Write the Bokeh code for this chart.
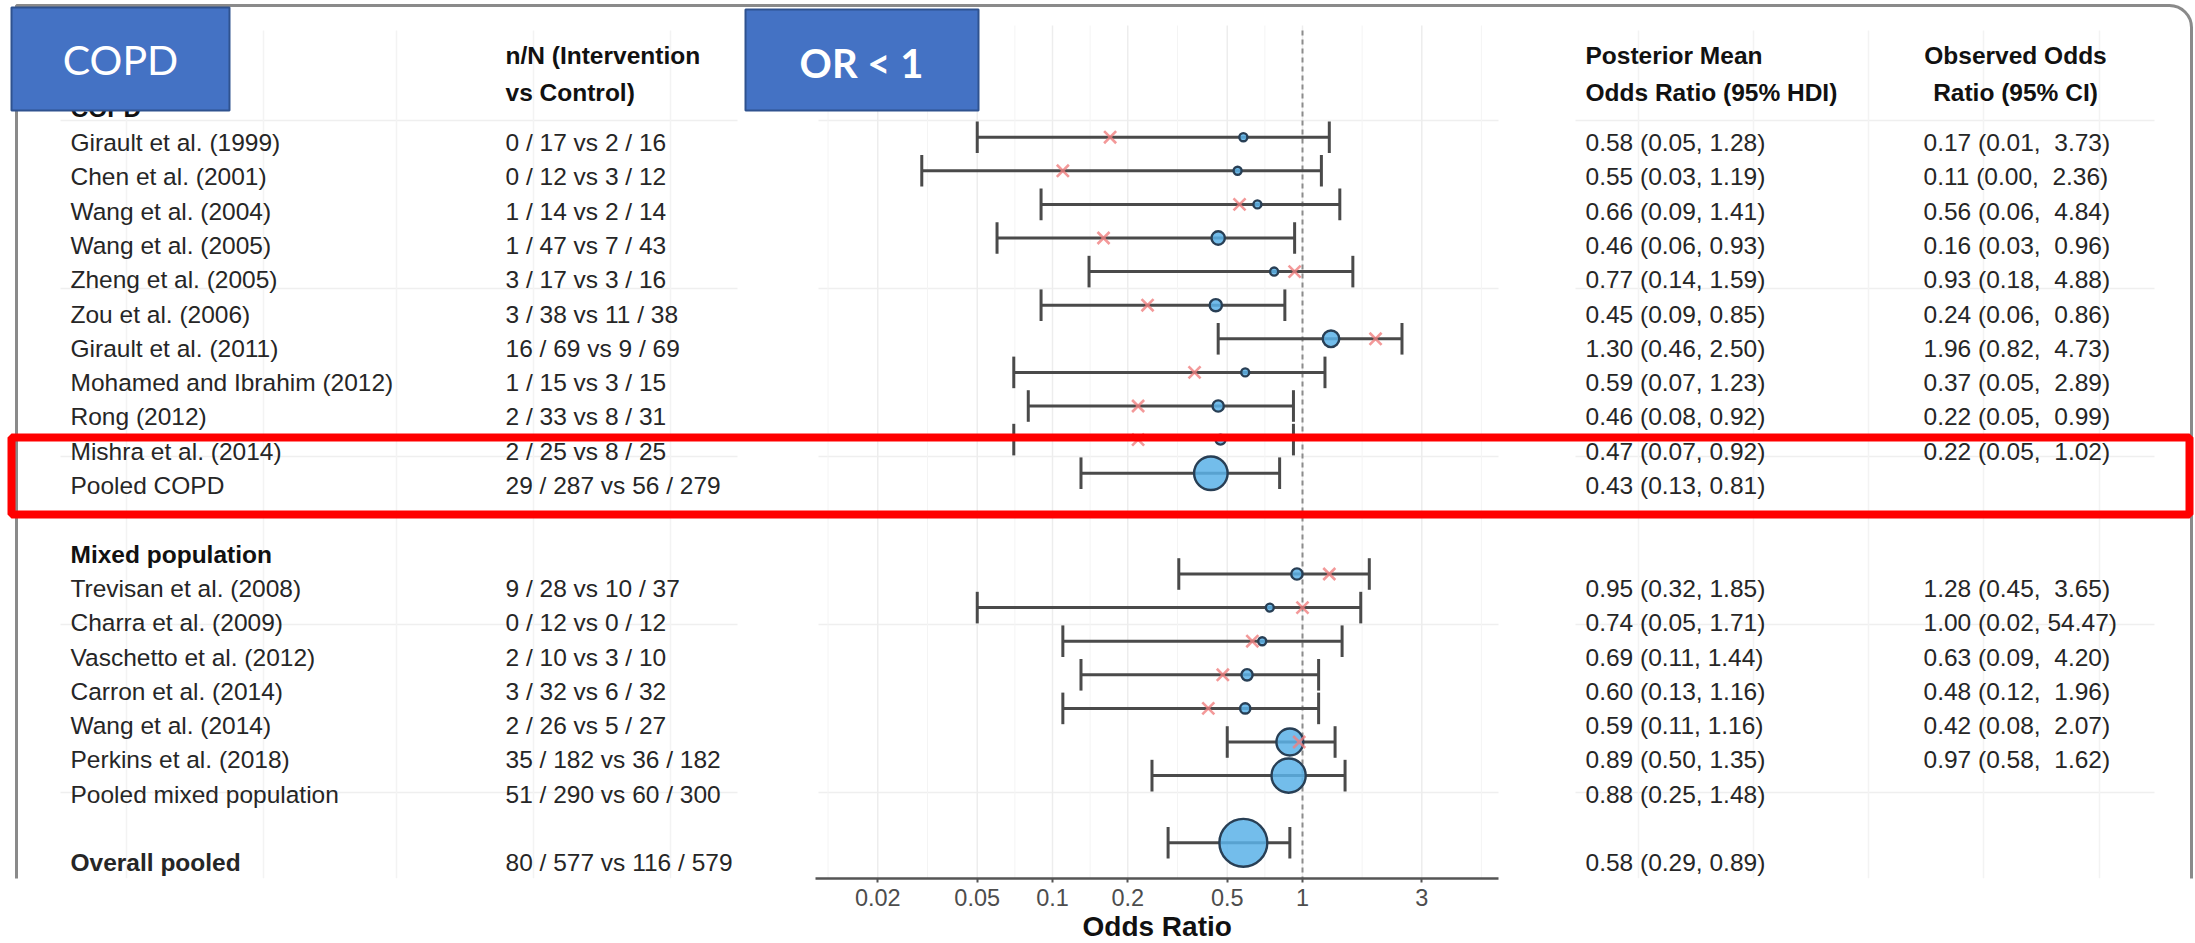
import numpy as np
from bokeh.plotting import figure
from bokeh.models import (Range1d, LogScale, LinearAxis, FixedTicker, CustomJSTickFormatter,
                          BoxAnnotation, Label, Title, ColumnDataSource)
from bokeh.core.properties import value
from bokeh.embed import file_html
from bokeh.resources import INLINE

# ---------------- data ----------------
groups = ["COPD"] * 11 + ["Mixed population"] * 7 + ["Overall"]
studies = [
    "Girault et al. (1999)", "Chen et al. (2001)", "Wang et al. (2004)", "Wang et al. (2005)",
    "Zheng et al. (2005)", "Zou et al. (2006)", "Girault et al. (2011)",
    "Mohamed and Ibrahim (2012)", "Rong (2012)", "Mishra et al. (2014)", "Pooled COPD",
    "Trevisan et al. (2008)", "Charra et al. (2009)", "Vaschetto et al. (2012)",
    "Carron et al. (2014)", "Wang et al. (2014)", "Perkins et al. (2018)",
    "Pooled mixed population", "Overall pooled",
]
int_events = [0, 0, 1, 1, 3, 3, 16, 1, 2, 2, 29, 9, 0, 2, 3, 2, 35, 51, 80]
int_total = [17, 12, 14, 47, 17, 38, 69, 15, 33, 25, 287, 28, 12, 10, 32, 26, 182, 290, 577]
ctl_events = [2, 3, 2, 7, 3, 11, 9, 3, 8, 8, 56, 10, 0, 3, 6, 5, 36, 60, 116]
ctl_total = [16, 12, 14, 43, 16, 38, 69, 15, 31, 25, 279, 37, 12, 10, 32, 27, 182, 300, 579]
post_mean = [0.58, 0.55, 0.66, 0.46, 0.77, 0.45, 1.30, 0.59, 0.46, 0.47, 0.43,
             0.95, 0.74, 0.69, 0.60, 0.59, 0.89, 0.88, 0.58]
post_lo = [0.05, 0.03, 0.09, 0.06, 0.14, 0.09, 0.46, 0.07, 0.08, 0.07, 0.13,
           0.32, 0.05, 0.11, 0.13, 0.11, 0.50, 0.25, 0.29]
post_hi = [1.28, 1.19, 1.41, 0.93, 1.59, 0.85, 2.50, 1.23, 0.92, 0.92, 0.81,
           1.85, 1.71, 1.44, 1.16, 1.16, 1.35, 1.48, 0.89]
obs_or = [0.17, 0.11, 0.56, 0.16, 0.93, 0.24, 1.96, 0.37, 0.22, 0.22, None,
          1.28, 1.00, 0.63, 0.48, 0.42, 0.97, None, None]
obs_lo = [0.01, 0.00, 0.06, 0.03, 0.18, 0.06, 0.82, 0.05, 0.05, 0.05, None,
          0.45, 0.02, 0.09, 0.12, 0.08, 0.58, None, None]
obs_hi = [3.73, 2.36, 4.84, 0.96, 4.88, 0.86, 4.73, 2.89, 0.99, 1.02, None,
          3.65, 54.47, 4.20, 1.96, 2.07, 1.62, None, None]
x_ticks = [0.02, 0.05, 0.1, 0.2, 0.5, 1, 3]

# ---------------- layout constants (pixels) ----------------
W, H = 2195, 943
FRAME_H = 878
ROW0_PX, ROW_PX = 142.0, 34.3          # text panels
PROW0_PX, PROW_PX = 136.7, 33.6        # forest panel
X_ONE_PX, PX_DEC = 1302.0, 250.0
AX_LEFT_PX, AX_RIGHT_PX = 815.0, 1498.0
NAME_X, NN_X, POST_X, OBS_X, OBS_HDR_X = 70, 505, 1585, 1923, 2015
FS = "24.5px"
FONT = "Liberation Sans"
AXIS_TITLE_W = 149.0


def prow(px):
    return (px - ROW0_PX) / ROW_PX


def pprow(px):
    return (px - PROW0_PX) / PROW_PX


def or_at(px):
    return 10 ** ((px - X_ONE_PX) / PX_DEC)


# rows: group header, studies, gap
rows, header_rows = [], {}
r, prev = -1, None
for g in groups:
    if g != prev:
        if prev is not None:
            r += 1
        if g != "Overall":
            header_rows[g] = r
            r += 1
        prev = g
    rows.append(r)
    r += 1

NBSP = "\u00a0"
nn_text = [f"{a} / {b} vs {c} / {d}" for a, b, c, d in zip(int_events, int_total, ctl_events, ctl_total)]
post_text = [f"{m:.2f} ({l:.2f}, {h:.2f})" for m, l, h in zip(post_mean, post_lo, post_hi)]
obs_text = ["" if o is None else f"{o:.2f} ({l:.2f}, " + f"{h:5.2f}".replace(" ", NBSP) + ")"
            for o, l, h in zip(obs_or, obs_lo, obs_hi)]
sizes = [max(8.0, 1.41 * np.sqrt(a + b)) for a, b in zip(int_total, ctl_total)]

src = ColumnDataSource(dict(
    row=rows, name=studies, nn=nn_text, post=post_text, obs_txt=obs_text,
    mean=post_mean, lo=post_lo, hi=post_hi, size=sizes,
    cap_lo=[y - 0.47 for y in rows], cap_hi=[y + 0.47 for y in rows],
))
obs_idx = [i for i, o in enumerate(obs_or) if o is not None]
obs_src = ColumnDataSource(dict(x=[obs_or[i] for i in obs_idx], row=[rows[i] for i in obs_idx]))

p = figure(width=W, height=H, output_backend="svg", toolbar_location=None,
           x_range=Range1d(0, W), y_range=Range1d(prow(FRAME_H), prow(0)),
           x_axis_location=None, y_axis_location=None,
           min_border_left=0, min_border_right=0, min_border_top=0, min_border_bottom=H - FRAME_H,
           background_fill_color="white", border_fill_color="white")
p.outline_line_color = None
p.grid.visible = False
p.extra_x_ranges = {"or": Range1d(or_at(0), or_at(W))}
p.extra_x_scales = {"or": LogScale()}
p.extra_y_ranges = {"plot": Range1d(pprow(FRAME_H), pprow(0))}
py_bottom = pprow(FRAME_H)

# ---- faint panel gridlines ----
grid_rows = [-0.5, 4.5, 9.5, 14.5, 19.5]
grid_col = "#EFEFEF"
for (x0, x1) in [(60, 737), (818, 1498), (1575, 2154)]:
    p.segment(x0=x0, x1=x1, y0=grid_rows, y1=grid_rows, line_color=grid_col, line_width=1.5,
              y_range_name="plot")
p.segment(x0=[126, 263, 396, 533, 670], x1=[126, 263, 396, 533, 670],
          y0=pprow(30), y1=py_bottom, line_color="#F3F3F3", line_width=1.5, y_range_name="plot")
p.segment(x0=[1638, 1753, 1868, 1983, 2099], x1=[1638, 1753, 1868, 1983, 2099],
          y0=pprow(30), y1=py_bottom, line_color="#F3F3F3", line_width=1.5, y_range_name="plot")
lt = np.log10(x_ticks)
minor = list((lt[:-1] + lt[1:]) / 2) + [lt[0] - (lt[1] - lt[0]) / 2, lt[-1] + (lt[-1] - lt[-2]) / 2]
p.segment(x0=x_ticks, x1=x_ticks, y0=pprow(25), y1=py_bottom, line_color="#EDEDED",
          line_width=1.5, x_range_name="or", y_range_name="plot")
p.segment(x0=list(10 ** np.array(minor)), x1=list(10 ** np.array(minor)), y0=pprow(25), y1=py_bottom,
          line_color="#F4F4F4", line_width=1, x_range_name="or", y_range_name="plot")

# ---- reference line at OR = 1 ----
p.segment(x0=1, x1=1, y0=pprow(30), y1=py_bottom, line_color="#8C8C8C", line_width=2,
          line_dash="5 4", x_range_name="or", y_range_name="plot")

# ---- forest marks ----
bar_col = "#4A4A4A"
for x0, x1, y0, y1 in [("lo", "hi", "row", "row"), ("lo", "lo", "cap_lo", "cap_hi"),
                       ("hi", "hi", "cap_lo", "cap_hi")]:
    p.segment(x0=x0, x1=x1, y0=y0, y1=y1, source=src, line_color=bar_col,
              line_width=3, x_range_name="or", y_range_name="plot")
p.scatter(x="mean", y="row", size="size", source=src, marker="circle", fill_color="#5AB1E8",
          fill_alpha=0.85, line_color="#283F55", line_width=2.4, x_range_name="or",
          y_range_name="plot")
p.scatter(x="x", y="row", source=obs_src, marker="x", size=17, line_color="#F08080",
          line_width=2.6, line_alpha=0.8, x_range_name="or", y_range_name="plot")

# ---- text columns ----
txt_col = "#262626"
regular = [i for i, s in enumerate(studies) if s != "Overall pooled"]
bold = [i for i, s in enumerate(studies) if s == "Overall pooled"]
for idx, style in [(regular, "normal"), (bold, "bold")]:
    s2 = ColumnDataSource(dict(row=[rows[i] for i in idx], name=[studies[i] for i in idx]))
    p.text(x=NAME_X, y="row", text="name", source=s2, text_font=value(FONT),
           text_font_size=value(FS), text_font_style=style, text_color=txt_col,
           text_baseline="middle", text_align="left")
p.text(x=NN_X, y="row", text="nn", source=src, text_font=value(FONT), text_font_size=value(FS),
       text_color=txt_col, text_baseline="middle", text_align="left")
p.text(x=POST_X, y="row", text="post", source=src, text_font=value(FONT), text_font_size=value(FS),
       text_color=txt_col, text_baseline="middle", text_align="left")
p.text(x=OBS_X, y="row", text="obs_txt", source=src, text_font=value(FONT), text_font_size=value(FS),
       text_color=txt_col, text_baseline="middle", text_align="left")

# group headers
hs = ColumnDataSource(dict(row=list(header_rows.values()), name=list(header_rows.keys())))
p.text(x=NAME_X, y="row", text="name", source=hs, text_font=value(FONT), text_font_size=value(FS),
       text_font_style="bold", text_color="#111111", text_baseline="middle", text_align="left")

# column headers
HDR1, HDR2 = -2.53, -1.47
for x, lines, align in [(NN_X, ["n/N (Intervention", "vs Control)"], "left"),
                        (POST_X, ["Posterior Mean", "Odds Ratio (95% HDI)"], "left"),
                        (OBS_HDR_X, ["Observed Odds", "Ratio (95% CI)"], "center")]:
    p.text(x=[x, x], y=[HDR1, HDR2], text=lines, text_font=value(FONT), text_font_size=value(FS),
           text_font_style="bold", text_color="#111111", text_baseline="middle", text_align=align)

# ---- x axis ----
ax_lo, ax_hi = or_at(AX_LEFT_PX), or_at(AX_RIGHT_PX)
ax = LinearAxis(x_range_name="or", ticker=FixedTicker(ticks=x_ticks, minor_ticks=[]),
                bounds=(ax_lo, ax_hi),
                formatter=CustomJSTickFormatter(code="return tick.toString();"))
ax.axis_line_color = "#555555"
ax.axis_line_width = 2.5
ax.major_tick_line_color = "#555555"
ax.major_tick_line_width = 2
ax.major_tick_out = 4
ax.major_tick_in = 0
ax.minor_tick_line_color = None
ax.major_label_text_font = FONT
ax.major_label_text_font_size = "23.5px"
ax.major_label_text_color = "#4D4D4D"
ax.major_label_standoff = 6
p.add_layout(ax, "below")

# axis title, centred under the plotted panel
axis_title_left = (AX_LEFT_PX + AX_RIGHT_PX) / 2 - AXIS_TITLE_W / 2
p.add_layout(Title(text="Odds Ratio", align="left", offset=axis_title_left,
                   standoff=0, text_font=FONT, text_font_size="28px", text_font_style="bold",
                   text_color="#111111"), "below")

# ---- overlays ----
p.add_layout(BoxAnnotation(left=16, right=2191, top=prow(5), bottom=prow(3000),
                           fill_color=None, line_color="#8A8A8A", line_width=3, line_alpha=1,
                           border_radius=(0, 22, 0, 0)))
p.add_layout(BoxAnnotation(left=11, right=2189, top=prow(437), bottom=prow(514),
                           fill_color=None, line_color="#FF0000", line_width=8, line_alpha=1))
p.add_layout(BoxAnnotation(left=11, right=229, top=prow(7), bottom=prow(110),
                           fill_color="#4472C4", fill_alpha=1, line_color="#2F528F",
                           line_width=2, line_alpha=1))
p.add_layout(BoxAnnotation(left=745, right=978, top=prow(9), bottom=prow(110),
                           fill_color="#4472C4", fill_alpha=1, line_color="#2F528F",
                           line_width=2, line_alpha=1))
p.add_layout(Label(x=120, y=prow(59), text="COPD", text_align="center", text_baseline="middle",
                   text_font="Lato", text_font_size="41px", text_color="white"))
p.add_layout(Label(x=861, y=prow(62), text="OR < 1", text_align="center", text_baseline="middle",
                   text_font="Lato", text_font_size="40px", text_font_style="bold",
                   text_color="white"))

open("out.html", "w").write(file_html(p, INLINE))
